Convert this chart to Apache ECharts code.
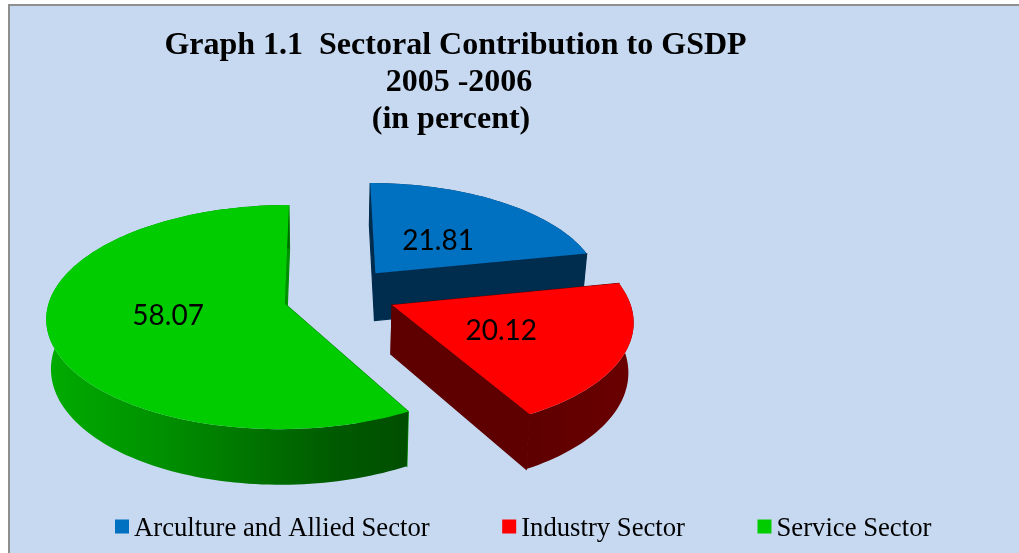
<!DOCTYPE html>
<html>
<head>
<meta charset="utf-8">
<style>html,body{margin:0;padding:0;background:#fff}#chart{width:1019px;height:553px}</style>
<script src="https://cdn.jsdelivr.net/npm/echarts@6/dist/echarts.min.js"></script>
</head>
<body>
<div id="chart"></div>
<script>
// Sector shares of GSDP, 2005-06
const sectors = ['Arculture and Allied Sector', 'Industry Sector', 'Service Sector'];
const shares = [21.81, 20.12, 58.07];
const shareLabels = ['21.81', '20.12', '58.07'];
const titleLines = ['Graph 1.1  Sectoral Contribution to GSDP', '2005 -2006', '(in percent)'];

// Heading line placement
const titleCentres = [455.5, 459, 451];
const titleTops = [27, 64, 101];

// Face colours per sector
const topColors = ['#0070c0', '#ff0000', '#00cc00'];
const radialWallColors = ['#002c4e', '#5e0000', '#009000'];
const outerWallStops = [
  [[0, '#002c4e'], [1, '#002c4e']],
  [[0, '#5e0000'], [1, '#6a0000']],
  [[0, '#00ac00'], [0.3, '#009200'], [0.8, '#005a00'], [1, '#004e00']]
];

// Camera: a ground plane seen in perspective, vanishing at (camX, horizonY)
const camX = 324, horizonY = -620, baseY = 295, depth = 1975;
const hubX = 17, hubY = -3;
const radii = [227, 236, 234];
const pullOut = [62.5, 53.7, 58];
const pullSkew = [-4.5, -4.5, -1];
const wallScaleX = 0.983, wallScaleY = 0.053;
const labelFraction = [0.47, 0.485, 0.495];
const labelTurn = [1, 0.5, 4];
const labelDrop = 2.5;

// Legend swatch sits slightly above the text's middle, so its box extends below the square
const swatchIcon = 'path://M0,0H14V14H0ZM0,18H14V18H0Z';

const total = shares.reduce((a, b) => a + b, 0);
const rad = d => d * Math.PI / 180;

function project(X, Y) {
  const w = 1 + Y / depth;
  return [camX + X / w, horizonY + (baseY - horizonY) / w];
}
function sink(p) {
  return [camX + (p[0] - camX) * wallScaleX, p[1] + (p[1] - horizonY) * wallScaleY];
}

function renderSlice(index) {
  return function () {
    const before = shares.slice(0, index).reduce((a, b) => a + b, 0);
    const from = before / total * 360;
    const to = (before + shares[index]) / total * 360;
    const mid = (from + to) / 2;
    const R = radii[index];
    const ax = hubX + pullOut[index] * Math.sin(rad(mid + pullSkew[index]));
    const ay = hubY + pullOut[index] * Math.cos(rad(mid + pullSkew[index]));
    const rim = [];
    for (let t = from; t < to; t += 1.5) {
      rim.push(project(ax + R * Math.sin(rad(t)), ay + R * Math.cos(rad(t))));
    }
    rim.push(project(ax + R * Math.sin(rad(to)), ay + R * Math.cos(rad(to))));
    const apex = project(ax, ay);
    const first = rim[0], last = rim[rim.length - 1];
    const radialStyle = { fill: radialWallColors[index], stroke: radialWallColors[index], lineWidth: 1.2 };
    const labR = R * labelFraction[index], labA = rad(mid + labelTurn[index]);
    const lab = project(ax + labR * Math.sin(labA), ay + labR * Math.cos(labA));
    const outerFill = {
      type: 'linear', x: 0, y: 0, x2: 1, y2: 0,
      colorStops: outerWallStops[index].map(s => ({ offset: s[0], color: s[1] }))
    };
    return {
      type: 'group',
      children: [
        { type: 'polygon', shape: { points: [apex, first, sink(first), sink(apex)] }, style: radialStyle },
        { type: 'polygon', shape: { points: [apex, last, sink(last), sink(apex)] }, style: radialStyle },
        { type: 'polygon', shape: { points: rim.concat(rim.map(sink).reverse()) },
          style: { fill: outerFill } },
        { type: 'polygon', shape: { points: [apex].concat(rim) },
          style: { fill: topColors[index] } },
        { type: 'text', x: lab[0], y: lab[1] + labelDrop,
          style: { text: shareLabels[index], fill: '#000', font: '28px Lato', align: 'center', verticalAlign: 'middle' } }
      ]
    };
  };
}

const chart = echarts.init(document.getElementById('chart'), null, { renderer: 'canvas' });
chart.setOption({
  animation: false,
  backgroundColor: '#ffffff',
  title: titleLines.map((line, i) => ({
    text: line,
    left: titleCentres[i], top: titleTops[i], textAlign: 'center', padding: 0,
    textStyle: { fontFamily: 'Liberation Serif', fontWeight: 'bold', fontSize: 32, lineHeight: 37, color: '#000' }
  })),
  legend: {
    left: 110, top: 510,
    icon: swatchIcon, itemWidth: 14, itemHeight: 18, itemGap: 72.5,
    selectedMode: false,
    data: sectors,
    textStyle: { fontFamily: 'Liberation Serif', fontSize: 26.7, color: '#000' }
  },
  graphic: [{
    type: 'rect', z: -10, silent: true,
    shape: { x: 9, y: 5, width: 1040, height: 580 },
    style: { fill: '#c6d9f1', stroke: '#8f8f8f', lineWidth: 2 }
  }],
  series: sectors.map((name, i) => ({
    type: 'custom',
    name,
    coordinateSystem: 'none',
    z: i + 2,
    silent: true,
    itemStyle: { color: topColors[i] },
    renderItem: renderSlice(i),
    data: [shares[i]]
  }))
});
</script>
</body>
</html>
